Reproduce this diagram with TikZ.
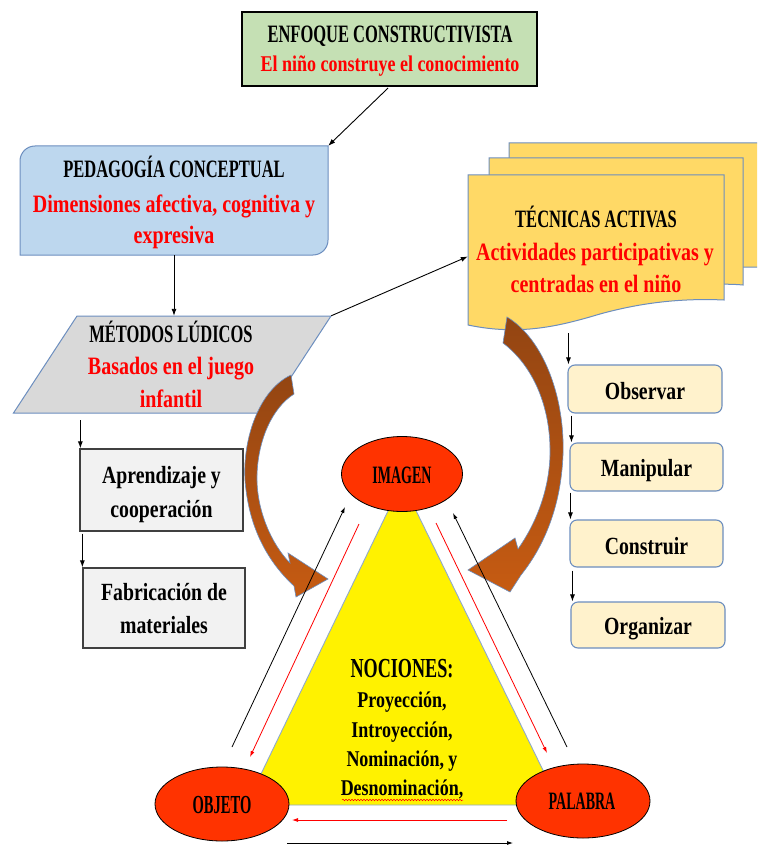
\documentclass[tikz,border=0pt]{standalone}
\usepackage{fontspec}
\setmainfont{Liberation Serif}
\newfontfamily\fcap{Liberation Serif}[FakeStretch=0.66]
\newfontfamily\fell{Liberation Serif}[FakeStretch=0.56]
\newfontfamily\flow{Liberation Serif}[FakeStretch=0.8]
\usetikzlibrary{shapes.geometric,arrows.meta,calc,decorations.pathmorphing}
\definecolor{greenF}{HTML}{C5E0B4}
\definecolor{blueF}{HTML}{BDD7EE}
\definecolor{grayF}{HTML}{D9D9D9}
\definecolor{lightF}{HTML}{F2F2F2}
\definecolor{creamF}{HTML}{FFF2CC}
\definecolor{goldF}{HTML}{FFD966}
\definecolor{ellF}{HTML}{FF3300}
\definecolor{edgeB}{HTML}{6C8EBF}
\definecolor{redT}{HTML}{FF0000}
\definecolor{brTop}{HTML}{934512}
\definecolor{brBot}{HTML}{C65B12}
\definecolor{triB}{HTML}{8FAACC}
\definecolor{darkE}{HTML}{404040}
\begin{document}
\begin{tikzpicture}[x=1pt,y=-1pt,
  capT/.style={font=\fcap\bfseries\fontsize{#1}{#1}\selectfont, anchor=base, inner sep=0pt},
  ellT/.style={font=\fell\bfseries\fontsize{#1}{#1}\selectfont, anchor=base, inner sep=0pt},
  lowT/.style={font=\flow\bfseries\fontsize{#1}{#1}\selectfont, anchor=base, inner sep=0pt},
  redtext/.style={text=redT},
  ghost/.style={draw=none, fill=none, inner sep=0pt},
  conn/.style={draw=black, line width=0.9pt, -{Latex[length=7pt,width=5pt]}},
  thinblk/.style={draw=black, line width=0.8pt, -{Latex[length=6pt,width=4pt]}},
  thinred/.style={draw=redT, line width=0.8pt, -{Latex[length=6pt,width=4pt]}},
  creambox/.style={draw=edgeB, line width=1.1pt, fill=creamF, rounded corners=7pt, inner sep=0pt},
  graybox/.style={draw=darkE, line width=1.3pt, fill=lightF, inner sep=0pt},
  oval/.style={ellipse, draw=black, line width=0.8pt, fill=ellF, inner sep=0pt},
  bigarrow/.style={top color=brTop, bottom color=brBot, draw=edgeB, line width=0.6pt},
  docshape/.style={fill=goldF, draw=edgeB, line width=1pt}
]
\useasboundingbox (0,0) rectangle (757,850);
\fill[white] (0,0) rectangle (757,850);
\clip (0,0) rectangle (757,850);

% ---- top box
\node[draw=black, line width=1.3pt, fill=greenF, minimum width=295pt, minimum height=74pt, inner sep=0pt] (enfoque) at (389.5,49) {};
\node[capT=25] (enfoqueA) at (390,43) {ENFOQUE CONSTRUCTIVISTA};
\node[lowT=22.5, redtext] (enfoqueB) at (390,72) {El niño construye el conocimiento};

% ---- pedagogia
\fill[blueF, draw=edgeB, line width=1pt] (20,255) -- (20,161) .. controls (20,152.7) and (26.7,146) .. (35,146) -- (328,146) -- (328,240) .. controls (328,248.3) and (321.3,255) .. (313,255) -- cycle;
\node[ghost, minimum width=308pt, minimum height=109pt] (pedagogia) at (174,200.5) {};
\node[capT=25] (pedA) at (174,178) {PEDAGOGÍA CONCEPTUAL};
\node[lowT=25, redtext] (pedB) at (174,212) {Dimensiones afectiva, cognitiva y};
\node[lowT=25, redtext] (pedC) at (174,243) {expresiva};

% ---- metodos (parallelogram)
\fill[grayF, draw=edgeB, line width=1pt] (77,316) -- (331,316) -- (267.5,413) -- (13.5,413) -- cycle;
\node[ghost, minimum width=317.5pt, minimum height=97pt] (metodos) at (172.25,364.5) {};
\node[capT=25] (metA) at (171,342) {MÉTODOS LÚDICOS};
\node[lowT=25, redtext] (metB) at (171,374) {Basados en el juego};
\node[lowT=25, redtext] (metC) at (171,407) {infantil};

% ---- tecnicas (multidocument)
\path[docshape] (509,143) -- (765,143) -- (765,267) -- (740,267) .. controls (690,262) and (600,285) .. (509,292) -- cycle;
\path[docshape] (489,158) -- (743,158) -- (743,285) .. controls (690,280) and (600,300) .. (489,308) -- cycle;
\path[docshape] (468,175) -- (724,175) -- (724,300) .. controls (680,298) and (640,303) .. (600,314) .. controls (560,326) and (520,336) .. (468,325) -- cycle;
\node[ghost, minimum width=256pt, minimum height=155pt] (tecnicas) at (596,252.5) {};
\node[capT=25] (tecA) at (596,227) {TÉCNICAS ACTIVAS};
\node[lowT=25, redtext] (tecB) at (595,260) {Actividades participativas y};
\node[lowT=25, redtext] (tecC) at (596,292) {centradas en el niño};

% ---- left column
\node[graybox, minimum width=163pt, minimum height=82pt] (apr) at (161.5,490) {};
\node[lowT=24.7] (aprA) at (161.5,483) {Aprendizaje y};
\node[lowT=24.7] (aprB) at (161.5,517) {cooperación};
\node[graybox, minimum width=162pt, minimum height=80pt] (fab) at (164,608) {};
\node[lowT=24.7] (fabA) at (164,600) {Fabricación de};
\node[lowT=24.7] (fabB) at (164,633) {materiales};

% ---- right column
\node[creambox, minimum width=154pt, minimum height=48pt] (obs) at (645,389) {};
\node[lowT=24.7] (obsT) at (645,399) {Observar};
\node[creambox, minimum width=153pt, minimum height=48pt] (man) at (646.5,467) {};
\node[lowT=24.7] (manT) at (646.5,476) {Manipular};
\node[creambox, minimum width=153pt, minimum height=47pt] (con) at (646.5,543.5) {};
\node[lowT=24.7] (conT) at (646.5,554) {Construir};
\node[creambox, minimum width=154pt, minimum height=46pt] (org) at (648,625) {};
\node[lowT=24.7] (orgT) at (648,634) {Organizar};

% ---- connectors
\draw[conn, shorten <=2pt] (enfoque.south) -- (pedagogia.north east);
\draw[conn] (pedagogia.south) -- (pedagogia.south |- metodos.north);
\draw[conn] (metodos.north east) -- ($(tecnicas.west)+(0,4)$);
\draw[conn, shorten <=7pt] ($(metodos.south -| apr.north west)+(1,0)$) -- ($(apr.north west)+(1,0)$);
\draw[conn, shorten <=2pt] ($(apr.south west -| fab.north west)+(0,0)$) -- (fab.north west);
\draw[conn, shorten <=3pt] ($(tecnicas.south -| obs.north west)+(1,0)$) -- ($(obs.north west)+(1,0)$);
\draw[conn, shorten <=2pt] ($(obs.south west)+(4,0)$) -- ($(man.north west)+(2,0)$);
\draw[conn, shorten <=1pt] ($(man.south west)+(1,0)$) -- ($(con.north west)+(1,0)$);
\draw[conn, shorten <=3pt] ($(con.south west)+(3,0)$) -- ($(org.north west)+(2,0)$);

% ---- brown curved arrows
\path[bigarrow] (291,375) .. controls (255,392) and (240,450) .. (246,490)
  .. controls (251,530) and (268,562) .. (294,586)
  -- (296,597) -- (328,579) -- (288,553) -- (290,563)
  .. controls (272,545) and (256,510) .. (257,475)
  .. controls (258,440) and (272,408) .. (294,394) -- cycle;
\path[bigarrow] (507,317) .. controls (545,340) and (565,400) .. (563,455)
  .. controls (561,505) and (545,545) .. (521,575)
  -- (510,592) -- (468,570) -- (515,538) -- (518,549)
  .. controls (535,525) and (549,492) .. (550,455)
  .. controls (551,405) and (532,365) .. (503,343) -- cycle;

% ---- triangle
\filldraw[fill=yellow, draw=triB, line width=0.9pt] (402,482) -- (246,805) -- (560,805) -- cycle;
\node[oval, minimum width=121pt, minimum height=75pt] (imagen) at (402,474) {};
\node[ellT=25] (imagenT) at (402,483) {IMAGEN};
\node[oval, minimum width=134pt, minimum height=74pt] (objeto) at (222,804) {};
\node[ellT=26] (objetoT) at (222,813) {OBJETO};
\node[oval, minimum width=134pt, minimum height=74pt] (palabra) at (583,801) {};
\node[ellT=25] (palabraT) at (582,809) {PALABRA};

\node[capT=27.5] (noc) at (402,677) {NOCIONES:};
\node[lowT=22.5] (noc1) at (402,707) {Proyección,};
\node[lowT=22.5] (noc2) at (402,737) {Introyección,};
\node[lowT=22.5] (noc3) at (402,766) {Nominación, y};
\node[lowT=22.5] (noc4) at (402,795) {Desnominación,};
\coordinate (wl) at (342,800);
\coordinate (wr) at (463,800);
\draw[redT, line width=0.5pt, decorate, decoration={snake, amplitude=0.8pt, segment length=3pt}] (wl) -- (wr);

% ---- thin arrows around the triangle
\coordinate (l1) at (232,747); \coordinate (l2) at (345,507);
\coordinate (l3) at (359,524); \coordinate (l4) at (250,757);
\coordinate (r1) at (436,523); \coordinate (r2) at (547,753);
\coordinate (r3) at (567,747); \coordinate (r4) at (453,513);
\coordinate (b1) at (507,820); \coordinate (b2) at (292,820);
\coordinate (b3) at (287,843); \coordinate (b4) at (513,843);
\draw[thinblk] (l1) -- (l2);
\draw[thinred] (l3) -- (l4);
\draw[thinred] (r1) -- (r2);
\draw[thinblk] (r3) -- (r4);
\draw[thinred] (b1) -- (b2);
\draw[thinblk] (b3) -- (b4);
\end{tikzpicture}
\end{document}
